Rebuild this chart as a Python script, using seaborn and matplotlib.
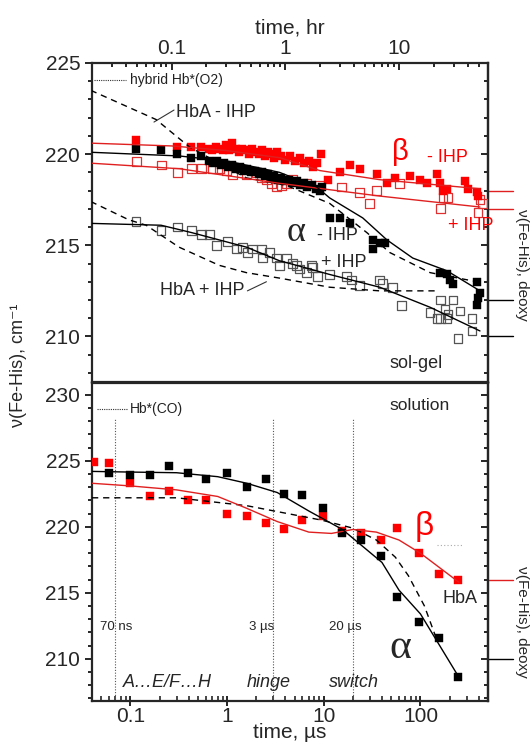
import numpy as np
import pandas as pd
import matplotlib
matplotlib.use("Agg")
import matplotlib.pyplot as plt
import matplotlib.transforms as mtrans
from matplotlib.ticker import MultipleLocator, LogLocator, FixedLocator, FixedFormatter, NullFormatter
import seaborn as sns

sns.set_style("ticks")
plt.rcParams["font.family"] = ["Liberation Sans", "DejaVu Sans"]

# ---------------- data: top panel (sol-gel), time in hr ----------------
beta_m_t = [0.049, 0.112, 0.149, 0.182, 0.214, 0.227, 0.247, 0.262, 0.28, 0.30, 0.32, 0.341, 0.37, 0.39,
            0.418, 0.45, 0.48, 0.512, 0.55, 0.59, 0.627, 0.66, 0.70, 0.75, 0.80, 0.85, 0.92, 1.0, 1.1,
            1.2, 1.33, 1.45, 1.6, 1.75, 1.9, 2.07, 2.34, 2.99, 3.66, 4.49, 6.34, 7.76, 9.13, 12.4,
            15.1, 17.5, 21.4, 22.8, 24.2, 26.2, 37.7, 40.0, 48.0, 49.0]
beta_m_v = [220.8, 220.4, 220.4, 220.4, 220.3, 220.2, 220.4, 220.3, 220.2, 220.5, 220.2, 220.6, 220.3, 220.1,
            220.3, 220.2, 220.0, 220.3, 220.1, 220.0, 220.2, 219.9, 220.1, 220.0, 219.8, 220.1, 219.9, 219.7, 219.9,
            219.6, 219.8, 219.5, 219.6, 219.3, 219.5, 220.0, 218.6, 219.0, 219.4, 219.2, 218.9, 218.4, 218.7, 218.8,
            218.6, 218.4, 218.9, 218.4, 218.0, 218.1, 218.5, 218.1, 217.9, 217.7]

alpha_m_t = [0.049, 0.081, 0.112, 0.149, 0.182, 0.214, 0.23, 0.25, 0.27, 0.29, 0.31, 0.34, 0.37, 0.40,
             0.43, 0.46, 0.50, 0.54, 0.58, 0.62, 0.66, 0.70, 0.75, 0.80, 0.86, 0.92, 1.0, 1.07, 1.15,
             1.25, 1.35, 1.45, 1.55, 1.7, 1.85, 2.0, 2.1, 2.44, 2.99, 3.66, 5.84, 5.84, 6.72, 7.44,
             22.8, 26.2, 27.8, 29.6, 48.0, 51.0, 49.0, 48.0]
alpha_m_v = [220.3, 220.2, 220.0, 219.8, 219.9, 219.6, 219.5, 219.6, 219.4, 219.5, 219.3, 219.4, 219.2, 219.3,
             219.1, 219.2, 219.0, 219.1, 218.9, 219.0, 218.8, 218.9, 218.7, 218.8, 218.6, 218.7, 218.5, 218.6, 218.4,
             218.5, 218.3, 218.4, 218.2, 218.3, 218.1, 218.0, 218.2, 216.5, 216.5, 216.2, 215.3, 214.8, 215.1, 215.1,
             213.5, 213.4, 213.1, 212.9, 213.0, 212.4, 212.1, 211.7]

beta_p_t = [0.049, 0.081, 0.112, 0.149, 0.182, 0.227, 0.262, 0.302, 0.341, 0.453, 0.555, 0.615, 0.68, 0.753,
            0.833, 0.922, 1.02, 1.15, 1.53, 1.99, 3.11, 4.49, 5.5, 6.34, 10.1, 22.8, 24.2, 26.7, 51.0, 53.3, 49.0]
beta_p_v = [219.6, 219.4, 219.0, 219.2, 219.2, 219.2, 219.2, 219.1, 218.9, 218.9, 219.0, 218.7, 218.6, 218.4,
            218.2, 218.3, 218.4, 218.6, 218.4, 218.3, 218.2, 217.9, 217.3, 218.0, 218.4, 217.0, 217.6, 217.6, 217.5, 217.3, 216.8]

alpha_p_t = [0.0487, 0.0808, 0.112, 0.149, 0.182, 0.214, 0.247, 0.309, 0.370, 0.418, 0.463, 0.512, 0.615, 0.627,
             0.723, 0.833, 0.886, 1.02, 1.15, 1.25, 1.33, 1.53, 1.69, 1.73, 1.91, 2.44, 3.45, 3.81, 4.49,
             6.72, 7.14, 8.77, 10.5, 18.6, 21.4, 22.8, 25.2, 26.7, 29.6, 34.1, 26.2, 22.8, 32.7, 43.4, 43.4]
alpha_p_v = [216.3, 215.8, 216.0, 215.8, 215.6, 215.6, 215.0, 215.2, 214.8, 214.9, 214.6, 214.8, 214.8, 214.3,
             214.6, 214.3, 213.9, 214.3, 214.0, 213.9, 213.7, 213.5, 213.9, 213.8, 213.3, 213.4, 213.3, 213.1, 212.8,
             213.1, 212.9, 212.7, 211.7, 211.3, 211.0, 212.0, 211.5, 211.2, 212.0, 211.4, 211.0, 211.0, 209.9, 210.3, 211.0]

fit_beta_m_t = [0.02, 0.1, 0.3, 0.9, 2.0, 6.7, 51]
fit_beta_m_v = [220.6, 220.45, 220.2, 219.8, 219.1, 218.6, 218.1]
fit_alpha_m_t = [0.02, 0.117, 0.32, 0.886, 1.88, 2.44, 4.77, 7.76, 13.1, 26.2, 51]
fit_alpha_m_v = [220.1, 219.9, 219.6, 219.0, 218.2, 217.6, 216.5, 215.3, 214.3, 213.6, 212.5]
fit_beta_p_t = [0.02, 0.117, 0.886, 6.72, 51]
fit_beta_p_v = [219.5, 219.2, 218.4, 217.7, 217.1]
fit_alpha_p_t = [0.02, 0.0808, 0.149, 0.453, 0.886, 1.25, 2.44, 6.72, 18.6, 51]
fit_alpha_p_v = [216.2, 216.1, 215.7, 214.9, 214.15, 213.9, 213.4, 212.7, 211.6, 210.3]
hba_m_t = [0.0195, 0.073, 0.143, 0.32, 0.453, 1.0, 2.44, 5.17, 8.25, 18.6, 48]
hba_m_v = [223.5, 221.9, 220.4, 219.2, 218.7, 218.3, 217.3, 215.7, 214.6, 213.5, 213.0]
hba_p_t = [0.0195, 0.042, 0.0598, 0.116, 0.262, 0.453, 0.886, 2.44, 6.72, 21.4]
hba_p_v = [217.4, 216.4, 216.1, 214.9, 213.9, 213.5, 213.2, 212.7, 212.5, 212.5]

deoxy_top_red = [218.0, 217.0]
deoxy_top_black = [212.0, 210.0]
hybrid_o2 = 224.07

# ---------------- data: bottom panel (solution), time in us ----------------
sol_alpha_t = [0.0594, 0.1, 0.158, 0.248, 0.39, 0.6, 1.0, 1.59, 2.5, 3.9, 5.9, 9.7, 15.6, 24.5, 39.5, 57.8, 97.7, 155, 247]
sol_alpha_v = [224.1, 223.9, 223.9, 224.6, 224.1, 223.6, 224.1, 223.0, 223.6, 222.5, 222.4, 221.4, 219.5, 219.0, 217.8, 214.7, 212.8, 211.6, 208.6]
sol_beta_t = [0.042, 0.0594, 0.1, 0.158, 0.248, 0.39, 0.6, 1.0, 1.59, 2.5, 3.9, 5.9, 9.7, 15.6, 24.5, 39.5, 57.8, 97.7, 155, 247]
sol_beta_v = [224.9, 224.8, 223.3, 222.3, 222.7, 222.0, 222.0, 221.0, 220.8, 220.3, 219.8, 220.5, 220.8, 219.7, 219.5, 219.0, 219.9, 218.0, 216.4, 216.0]
sol_fit_alpha_t = [0.04, 0.1, 0.3, 0.8, 1.6, 3.3, 7.0, 15.6, 40, 60, 100, 250]
sol_fit_alpha_v = [224.2, 224.15, 224.1, 223.8, 223.3, 222.6, 221.2, 219.8, 217.3, 215.2, 213.4, 208.6]
sol_fit_beta_t = [0.04, 0.1, 0.3, 0.8, 1.6, 3.3, 7.0, 12, 20, 35, 60, 100, 250]
sol_fit_beta_v = [223.3, 223.1, 222.8, 222.3, 221.4, 220.4, 219.6, 219.5, 219.8, 219.6, 219.0, 218.0, 215.8]
sol_hba_t = [0.04, 0.3, 1.6, 5.0, 9.6, 20, 35, 55, 75, 110, 150]
sol_hba_v = [222.2, 222.2, 221.6, 220.9, 220.5, 219.9, 219.0, 217.7, 216.3, 214.0, 211.3]
deoxy_bot = {"red": 216.0, "black": 210.0}
hb_co = 228.9
phase_times = [0.07, 3.0, 20.0]
phase_labels = ["70 ns", "3 \u00b5s", "20 \u00b5s"]
phase_names = ["A\u2026E/F\u2026H", "hinge", "switch"]

RED = "#ff0000"
BLK = "#000000"

fig = plt.figure(figsize=(5.31, 7.46), dpi=100)
L, W = 92 / 531, 396 / 531
ax1 = fig.add_axes([L, 1 - 382 / 746, W, 319 / 746])
ax2 = fig.add_axes([L, 1 - 701 / 746, W, 318 / 746])
for ax in (ax1, ax2):
    ax.set_xscale("log")
    for s in ax.spines.values():
        s.set_linewidth(1.6)
        s.set_visible(True)

MS = 40

def filled(ax, t, v, c):
    sns.scatterplot(x=t, y=v, ax=ax, marker="s", s=MS, color=c, edgecolor=c, linewidth=0.3, zorder=3)

def opened(ax, t, v, c):
    sns.scatterplot(x=t, y=v, ax=ax, marker="s", s=MS, facecolors="none", edgecolor=c, linewidth=0.9, zorder=3)

def fit(ax, t, v, c, ls="-", lw=1.0):
    sns.lineplot(x=t, y=v, ax=ax, color=c, lw=lw, linestyle=ls, estimator=None, sort=True, zorder=4)

# ---------------- top panel ----------------
fit(ax1, hba_m_t, hba_m_v, BLK, ls=(0, (4.5, 3.5)))
fit(ax1, hba_p_t, hba_p_v, BLK, ls=(0, (4.5, 3.5)))
opened(ax1, beta_p_t, beta_p_v, "#e03030")
opened(ax1, alpha_p_t, alpha_p_v, "#555555")
filled(ax1, beta_m_t, beta_m_v, RED)
filled(ax1, alpha_m_t, alpha_m_v, BLK)
fit(ax1, fit_beta_m_t, fit_beta_m_v, "#e02020")
fit(ax1, fit_beta_p_t, fit_beta_p_v, "#e02020")
fit(ax1, fit_alpha_m_t, fit_alpha_m_v, BLK)
fit(ax1, fit_alpha_p_t, fit_alpha_p_v, BLK)

ax1.set_xlim(0.02, 60)
ax1.set_ylim(207.5, 225)
ax1.xaxis.tick_top()
ax1.xaxis.set_label_position("top")
ax1.set_xlabel("time, hr", fontsize=15, labelpad=4)
ax1.xaxis.set_major_locator(FixedLocator([0.1, 1, 10]))
ax1.xaxis.set_major_formatter(FixedFormatter(["0.1", "1", "10"]))
ax1.xaxis.set_minor_locator(LogLocator(base=10, subs=np.arange(2, 10)))
ax1.xaxis.set_minor_formatter(NullFormatter())
ax1.tick_params(axis="x", which="both", direction="in", top=True, bottom=False, labeltop=True,
                labelbottom=False, labelsize=15, width=1.4)
ax1.tick_params(axis="x", which="major", length=5)
ax1.tick_params(axis="x", which="minor", length=3)
ax1.set_ylabel("")

# ---------------- bottom panel ----------------
fit(ax2, sol_hba_t, sol_hba_v, BLK, ls=(0, (4.5, 3.5)))
filled(ax2, sol_beta_t, sol_beta_v, RED)
filled(ax2, sol_alpha_t, sol_alpha_v, BLK)
fit(ax2, sol_fit_beta_t, sol_fit_beta_v, "#e02020")
fit(ax2, sol_fit_alpha_t, sol_fit_alpha_v, BLK)
ax2.set_xlim(0.04, 500)
ax2.set_ylim(206.8, 230.9)
ax2.xaxis.set_major_locator(FixedLocator([0.1, 1, 10, 100]))
ax2.xaxis.set_major_formatter(FixedFormatter(["0.1", "1", "10", "100"]))
ax2.xaxis.set_minor_locator(LogLocator(base=10, subs=np.arange(2, 10)))
ax2.xaxis.set_minor_formatter(NullFormatter())
ax2.tick_params(axis="x", which="major", direction="inout", length=7, width=1.4, labelsize=15, top=False, pad=1)
ax2.tick_params(axis="x", which="minor", direction="in", length=3.5, width=1.2, top=False)
ax2.set_xlabel("time, \u00b5s", fontsize=15, labelpad=-2)
ax2.set_ylabel("")

for ax, lo, hi in ((ax1, 210, 225), (ax2, 210, 230)):
    ax.yaxis.set_major_locator(MultipleLocator(5))
    ax.yaxis.set_minor_locator(MultipleLocator(1))
    ax.tick_params(axis="y", which="both", direction="out", left=True, right=False, labelsize=15, width=1.4)
    ax.tick_params(axis="y", which="major", length=5)
    ax.tick_params(axis="y", which="minor", length=3)
    sec = ax.secondary_yaxis("right")
    sec.yaxis.set_major_locator(MultipleLocator(5))
    sec.yaxis.set_minor_locator(MultipleLocator(1))
    sec.tick_params(axis="y", which="both", direction="in", labelright=False, width=1.4)
    sec.tick_params(axis="y", which="major", length=5)
    sec.tick_params(axis="y", which="minor", length=3)
    sec.spines["right"].set_linewidth(1.6)

# ---------------- annotations: top ----------------
tr1 = mtrans.blended_transform_factory(ax1.transAxes, ax1.transData)
for v in deoxy_top_red:
    ax1.plot([1.0, 1.063], [v, v], color="#e02020", lw=1.0, transform=tr1, clip_on=False)
for v in deoxy_top_black:
    ax1.plot([1.0, 1.063], [v, v], color=BLK, lw=1.0, transform=tr1, clip_on=False)
ax1.plot([0.021, 0.040], [hybrid_o2, hybrid_o2], color="#333333", lw=0.8, ls=(0, (1, 1)))
ax1.text(0.043, hybrid_o2, "hybrid Hb*(O2)", fontsize=10, va="center", ha="left", color="#222222")
ax1.plot([0.070, 0.105], [221.76, 222.42], color="#333333", lw=0.8)
ax1.text(0.11, 222.3, "HbA - IHP", fontsize=13, va="center", ha="left")
ax1.plot([0.463, 0.68], [212.5, 213.0], color="#333333", lw=0.8)
ax1.text(0.44, 212.5, "HbA + IHP", fontsize=13, va="center", ha="right")
ax1.text(10.3, 220.1, "\u03b2", fontsize=21, color=RED, ha="center", va="center")
ax1.text(17.5, 219.8, "- IHP", fontsize=13, color=RED, ha="left", va="center")
ax1.text(26.7, 216.1, "+ IHP", fontsize=13, color=RED, ha="left", va="center")
ax1.text(1.25, 215.7, "\u03b1", fontsize=26, family="Liberation Serif", ha="center", va="center")
ax1.text(1.91, 215.55, "- IHP", fontsize=13, ha="left", va="center")
ax1.text(2.07, 214.07, "+ IHP", fontsize=13, ha="left", va="center")
ax1.text(8.25, 208.5, "sol-gel", fontsize=13, ha="left", va="center")

# ---------------- annotations: bottom ----------------
tr2 = mtrans.blended_transform_factory(ax2.transAxes, ax2.transData)
ax2.plot([1.0, 1.063], [deoxy_bot["red"]] * 2, color="#e02020", lw=1.0, transform=tr2, clip_on=False)
ax2.plot([1.0, 1.063], [deoxy_bot["black"]] * 2, color=BLK, lw=1.0, transform=tr2, clip_on=False)
ax2.plot([0.0446, 0.094], [hb_co, hb_co], color="#333333", lw=0.8, ls=(0, (1, 1)))
ax2.text(0.098, hb_co, "Hb*(CO)", fontsize=10, va="center", ha="left", color="#222222")
for t in phase_times:
    ax2.plot([t, t], [206.8, 228.2], color="#555555", lw=0.8, ls=(0, (1, 1.5)))
ax2.text(0.048, 212.4, phase_labels[0], fontsize=9.5, ha="left", va="center")
ax2.text(1.7, 212.4, phase_labels[1], fontsize=9.5, ha="left", va="center")
ax2.text(11.4, 212.4, phase_labels[2], fontsize=9.5, ha="left", va="center")
ax2.text(0.083, 208.2, phase_names[0], fontsize=13, style="italic", ha="left", va="center")
ax2.text(1.59, 208.2, phase_names[1], fontsize=13, style="italic", ha="left", va="center")
ax2.text(11.4, 208.2, phase_names[2], fontsize=13, style="italic", ha="left", va="center")
ax2.text(98, 229.2, "solution", fontsize=12.5, ha="center", va="center")
ax2.text(110, 220.0, "\u03b2", fontsize=24, color=RED, ha="center", va="center")
ax2.plot([147, 271], [218.6, 218.6], color="#aaaaaa", lw=0.8, ls=(0, (1, 2)))
ax2.text(169, 214.6, "HbA", fontsize=13, ha="left", va="center")
ax2.text(62, 210.8, "\u03b1", fontsize=30, family="Liberation Serif", ha="center", va="center")

# ---------------- figure labels ----------------
fig.text(0.034, 0.51, "\u03bd(Fe-His), cm\u207b\u00b9", rotation=90, fontsize=13, ha="center", va="center")
fig.text(0.983, 0.645, "\u03bd(Fe-His), deoxy", rotation=270, fontsize=11, ha="center", va="center")
fig.text(0.983, 0.166, "\u03bd(Fe-His), deoxy", rotation=270, fontsize=11, ha="center", va="center")

fig.savefig("out.png", dpi=100)
